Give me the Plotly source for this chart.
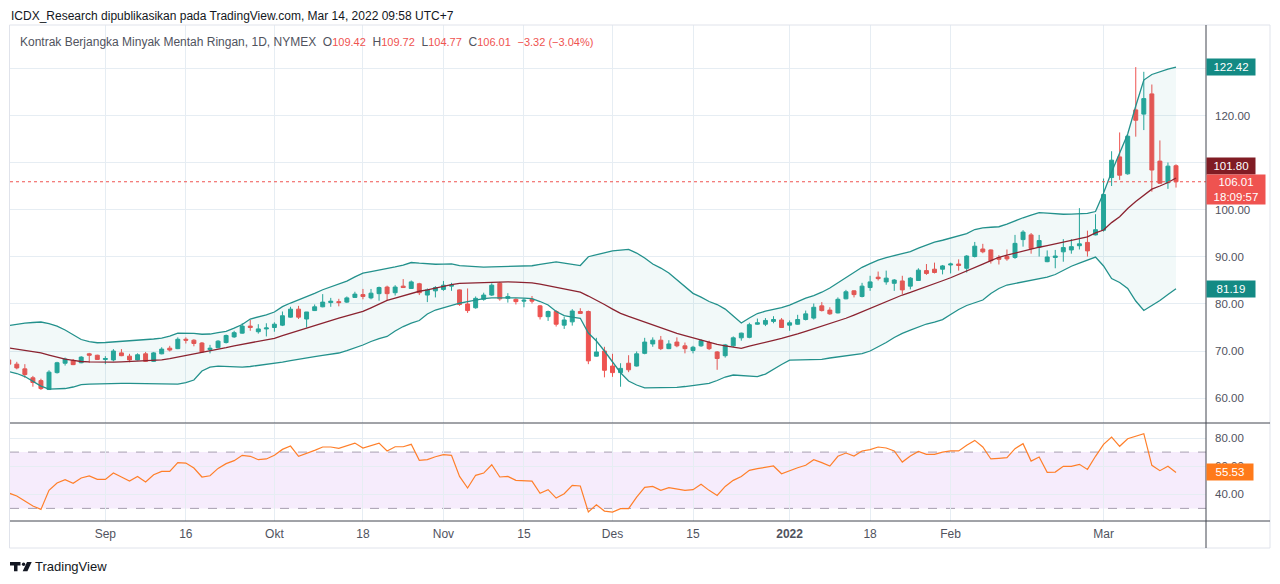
import pandas as pd
import plotly.graph_objects as go

# trading days shown (CME holidays merged into the next session)
holidays = ["2021-09-06", "2021-11-25", "2021-12-24", "2022-01-17", "2022-02-21"]
days = pd.bdate_range("2021-08-16", "2022-03-14")
days = [d.strftime("%Y-%m-%d") for d in days if d.strftime("%Y-%m-%d") not in holidays]

opens = [68.1, 67.2, 66.2, 64.3, 63.7, 61.8, 65.4, 67.4, 68.0, 67.5,
         69.4, 69.1, 68.2, 68.1, 69.6, 68.9, 68.1, 69.4, 67.8, 69.4,
         70.6, 70.5, 72.5, 72.3, 71.7, 70.3, 70.7, 71.8, 73.0, 73.8,
         75.3, 74.1, 74.7, 75.0, 75.5, 77.2, 78.9, 76.8, 78.6, 79.4,
         80.3, 80.5, 80.4, 81.4, 82.0, 81.3, 82.2, 83.6, 82.4, 83.8,
         83.3, 84.3, 81.9, 82.8, 83.1, 83.8, 83.0, 80.0, 79.2, 81.0,
         81.9, 84.4, 81.2, 81.0, 80.6, 81.0, 79.6, 77.3, 78.4, 75.5,
         76.2, 78.4, 78.4, 68.9, 70.0, 66.8, 65.4, 67.4, 66.8, 69.5,
         71.5, 72.3, 70.5, 71.9, 71.1, 70.1, 71.1, 71.8, 69.8, 69.0,
         71.1, 72.8, 72.9, 75.7, 75.7, 76.3, 76.6, 75.5, 75.7, 76.7,
         77.0, 79.6, 78.7, 78.1, 81.1, 82.8, 81.6, 83.5, 85.7, 84.7,
         84.4, 84.9, 83.8, 85.0, 87.1, 87.4, 87.4, 88.3, 88.5, 87.6,
         90.1, 91.7, 91.5, 89.9, 90.1, 89.9, 93.7, 94.7, 92.1, 89.0,
         89.9, 91.1, 91.5, 92.4, 93.1, 94.7, 95.7, 106.9, 111.3, 107.7,
         121.3, 120.4, 124.7, 110.4, 105.8, 109.42]
highs = [68.4, 67.7, 67.2, 64.7, 64.1, 65.9, 67.7, 68.6, 68.3, 68.9,
         69.6, 69.2, 68.9, 70.4, 70.4, 69.4, 69.5, 69.8, 69.8, 70.8,
         71.1, 72.9, 72.9, 72.5, 71.9, 71.3, 72.3, 73.5, 74.3, 75.9,
         76.6, 75.7, 75.9, 76.1, 78.4, 79.4, 79.6, 78.3, 79.9, 82.1,
         81.3, 81.1, 81.6, 82.6, 83.2, 83.2, 83.7, 83.9, 84.0, 85.3,
         85.0, 84.5, 83.3, 83.8, 84.9, 84.5, 83.1, 83.3, 81.6, 82.4,
         84.4, 84.7, 82.3, 81.2, 81.2, 81.7, 79.8, 78.6, 78.7, 77.3,
         78.9, 79.1, 78.6, 72.8, 70.9, 69.4, 67.4, 69.1, 69.9, 72.8,
         72.9, 73.2, 72.3, 72.9, 71.8, 71.1, 72.5, 72.2, 70.0, 71.5,
         73.1, 73.9, 76.0, 76.9, 77.0, 77.4, 77.0, 76.5, 77.7, 78.6,
         80.1, 80.4, 79.3, 81.4, 83.0, 82.9, 84.5, 86.0, 86.9, 87.1,
         85.3, 86.0, 85.7, 87.6, 88.5, 88.8, 88.3, 88.8, 89.5, 90.4,
         93.2, 92.8, 91.6, 90.4, 91.6, 94.7, 95.7, 95.1, 94.7, 91.4,
         91.5, 93.8, 93.8, 100.4, 95.6, 99.1, 106.7, 112.5, 116.5, 116.0,
         130.4, 129.4, 126.7, 114.8, 110.1, 109.72]
lows = [66.9, 66.1, 64.3, 62.4, 61.7, 61.7, 65.2, 66.9, 67.0, 67.4,
        67.5, 68.1, 67.2, 67.8, 68.9, 67.6, 68.0, 67.7, 67.7, 69.3,
        69.9, 70.4, 71.6, 71.0, 69.6, 69.5, 70.6, 71.6, 72.8, 73.7,
        74.3, 73.7, 73.1, 74.1, 75.3, 77.1, 76.8, 75.0, 78.5, 79.3,
        79.4, 79.5, 80.2, 81.3, 81.0, 81.0, 80.7, 80.8, 81.8, 83.4,
        83.2, 81.9, 80.4, 81.4, 82.8, 82.8, 79.6, 78.1, 79.0, 80.7,
        81.7, 80.7, 80.3, 79.9, 79.3, 80.1, 76.7, 76.4, 75.2, 74.7,
        75.4, 77.9, 67.2, 68.8, 64.4, 64.5, 62.4, 65.5, 66.7, 69.3,
        70.9, 70.2, 70.4, 70.8, 69.5, 69.5, 70.9, 70.2, 66.0, 68.6,
        70.8, 72.2, 72.7, 75.6, 75.3, 75.9, 74.9, 74.3, 75.6, 76.5,
        76.7, 78.4, 77.7, 78.0, 81.0, 81.4, 81.4, 82.8, 85.0, 84.1,
        82.8, 82.1, 83.1, 84.9, 86.2, 86.5, 86.3, 86.5, 87.1, 86.7,
        89.9, 90.8, 88.6, 88.4, 89.2, 89.6, 92.2, 90.7, 90.1, 88.9,
        87.6, 89.0, 90.7, 91.6, 90.1, 94.6, 95.4, 105.1, 106.4, 107.5,
        115.6, 117.0, 103.9, 105.6, 104.5, 104.77]
closes = [67.2, 66.4, 65.0, 63.3, 62.0, 65.5, 67.5, 68.3, 67.1, 68.7,
          69.1, 68.2, 68.4, 70.0, 69.0, 68.1, 69.2, 67.8, 69.6, 70.4,
          70.2, 72.5, 72.3, 71.6, 69.8, 70.6, 72.1, 73.3, 73.9, 75.3,
          75.0, 74.7, 74.9, 75.7, 77.5, 78.9, 77.2, 78.3, 79.4, 80.4,
          80.6, 80.3, 81.3, 82.1, 81.6, 82.3, 83.5, 82.2, 83.6, 83.5,
          84.7, 82.4, 83.0, 83.5, 84.0, 84.0, 79.9, 78.6, 81.2, 81.9,
          84.0, 81.1, 81.6, 80.5, 80.8, 80.6, 77.3, 78.4, 75.7, 76.6,
          78.5, 78.0, 67.9, 69.8, 65.9, 65.4, 66.3, 66.0, 69.4, 71.9,
          72.3, 70.5, 71.5, 71.1, 70.5, 70.8, 72.2, 70.5, 68.4, 71.3,
          72.8, 73.8, 75.6, 76.0, 76.5, 76.7, 75.0, 76.0, 76.7, 77.9,
          79.3, 78.6, 77.9, 81.0, 82.6, 82.0, 83.8, 84.7, 85.4, 85.5,
          85.1, 83.0, 85.5, 87.2, 86.5, 86.7, 88.1, 88.5, 88.2, 90.2,
          92.3, 91.1, 89.2, 89.5, 89.6, 92.9, 95.3, 91.8, 93.5, 90.0,
          90.2, 92.0, 92.2, 92.8, 91.3, 95.8, 103.3, 110.6, 107.4, 115.7,
          119.1, 123.7, 108.5, 105.7, 109.33, 106.01]

# Bollinger bands (own scale on the chart)
bb_upper = [74.37, 74.65, 74.83, 74.93, 75.02, 74.74, 74.27, 73.53, 72.60, 71.77,
            71.39, 71.17, 71.21, 71.30, 71.39, 71.49, 71.58, 71.67, 71.86, 72.04,
            72.42, 72.97, 72.97, 72.92, 72.75, 72.79, 73.05, 73.29, 73.87, 74.55,
            75.58, 75.95, 76.36, 76.88, 77.88, 78.55, 79.11, 79.67, 80.35, 81.02,
            81.56, 82.12, 82.64, 83.42, 84.11, 84.40, 84.66, 84.94, 85.28, 85.61,
            86.08, 85.95, 85.84, 85.76, 85.80, 85.84, 85.52, 85.39, 85.32, 85.24,
            85.28, 85.32, 85.35, 85.39, 85.43, 85.48, 85.74, 85.98, 86.21, 85.98,
            85.74, 85.52, 87.16, 87.55, 87.97, 88.25, 88.40, 88.53, 87.84, 86.91,
            85.80, 85.05, 84.12, 82.82, 81.52, 80.35, 79.66, 78.83, 78.27, 77.43,
            76.13, 74.83, 75.76, 76.60, 77.03, 77.34, 77.69, 78.18, 78.83, 79.48,
            79.94, 80.56, 81.34, 82.27, 83.20, 84.20, 85.19, 85.89, 86.54, 87.01,
            87.36, 87.75, 88.10, 88.74, 89.37, 89.85, 90.22, 90.63, 91.00, 91.47,
            92.21, 92.53, 92.64, 92.73, 93.23, 93.88, 94.40, 94.90, 95.37, 95.28,
            95.15, 95.05, 95.09, 95.17, 95.20, 95.56, 99.00, 102.90, 106.44, 109.97,
            115.17, 120.00, 121.03, 121.58, 122.05, 122.42]
bb_basis = [70.19, 69.94, 69.72, 69.52, 69.28, 68.88, 68.46, 68.14, 67.90, 67.68,
            67.62, 67.58, 67.58, 67.58, 67.62, 67.68, 67.73, 67.81, 67.86, 67.99,
            68.20, 68.48, 68.81, 69.07, 69.35, 69.63, 69.91, 70.26, 70.59, 70.87,
            71.13, 71.39, 71.67, 71.99, 72.47, 72.96, 73.46, 73.94, 74.39, 74.85,
            75.30, 75.74, 76.17, 76.58, 76.99, 77.66, 78.36, 79.03, 79.48, 79.93,
            80.41, 80.74, 81.00, 81.34, 81.65, 81.99, 82.21, 82.27, 82.34, 82.40,
            82.45, 82.51, 82.49, 82.45, 82.40, 82.30, 82.08, 81.78, 81.43, 81.15,
            80.87, 80.56, 79.85, 79.11, 78.27, 77.43, 76.62, 76.06, 75.52, 75.02,
            74.46, 73.94, 73.42, 72.92, 72.51, 72.08, 71.65, 71.23, 70.87, 70.59,
            70.33, 70.13, 70.52, 70.93, 71.24, 71.62, 71.99, 72.36, 72.82, 73.29,
            73.75, 74.27, 74.72, 75.20, 75.72, 76.32, 76.95, 77.56, 78.18, 78.83,
            79.48, 80.04, 80.54, 81.06, 81.52, 82.08, 82.69, 83.25, 83.86, 84.50,
            85.11, 85.80, 86.45, 87.06, 87.47, 87.86, 88.25, 88.62, 88.92, 89.24,
            89.54, 89.81, 90.15, 90.52, 90.86, 91.60, 92.12, 93.50, 94.58, 96.12,
            97.42, 98.63, 99.71, 100.30, 100.95, 101.80]
bb_lower = [65.82, 65.45, 64.89, 64.05, 63.12, 62.53, 62.56, 62.66, 62.94, 63.40,
            63.49, 63.55, 63.59, 63.61, 63.63, 63.63, 63.63, 63.63, 63.61, 63.57,
            63.53, 63.49, 63.77, 64.24, 65.91, 66.65, 66.84, 66.75, 66.65, 66.65,
            66.75, 66.93, 67.12, 67.29, 67.58, 67.86, 68.14, 68.36, 68.60, 68.83,
            69.07, 69.26, 69.72, 70.19, 70.75, 71.40, 71.95, 72.33, 73.35, 74.18,
            74.83, 75.30, 76.51, 77.25, 77.71, 78.12, 78.51, 78.83, 79.14, 79.37,
            79.52, 79.55, 79.54, 79.52, 79.48, 79.37, 78.83, 78.18, 76.97, 76.21,
            75.95, 75.71, 72.97, 71.49, 69.63, 67.58, 65.59, 64.05, 63.31, 62.79,
            62.79, 62.83, 62.84, 62.88, 63.03, 63.22, 63.40, 63.61, 64.15, 64.80,
            65.17, 65.06, 64.89, 64.87, 65.35, 66.28, 67.12, 67.95, 67.95, 67.95,
            68.03, 68.08, 68.33, 68.51, 68.64, 68.83, 69.14, 69.63, 70.37, 71.21,
            72.14, 72.92, 73.53, 74.15, 74.65, 75.02, 75.48, 76.41, 77.34, 78.09,
            78.64, 79.11, 80.32, 81.25, 81.90, 82.18, 82.51, 82.79, 83.07, 83.35,
            83.85, 84.65, 85.39, 85.98, 86.54, 87.10, 85.43, 83.11, 82.36, 81.25,
            78.92, 77.16, 78.09, 79.01, 80.13, 81.19]

rsi = [40.9, 38.8, 35.2, 31.7, 29.3, 42.8, 48.0, 50.4, 47.8, 51.6,
       53.0, 50.6, 50.6, 55.1, 52.3, 49.4, 52.7, 48.7, 53.9, 56.3,
       56.3, 62.5, 62.2, 58.7, 52.3, 53.2, 58.4, 61.8, 63.9, 67.7,
       67.0, 64.6, 65.1, 67.7, 71.9, 74.3, 67.0, 68.9, 71.2, 73.6,
       73.6, 72.7, 74.8, 76.4, 72.9, 74.8, 76.4, 70.8, 73.8, 73.8,
       75.5, 64.1, 64.6, 66.7, 68.2, 67.7, 52.7, 44.5, 53.5, 55.1,
       61.0, 52.3, 52.7, 49.9, 49.9, 49.4, 40.7, 43.3, 37.3, 40.4,
       46.4, 45.9, 27.4, 32.6, 28.1, 27.4, 29.8, 29.8, 38.0, 44.9,
       45.6, 42.8, 44.7, 44.0, 42.8, 43.3, 47.1, 42.8, 39.2, 45.6,
       49.9, 52.7, 57.0, 58.2, 59.1, 60.1, 54.6, 57.0, 58.9, 60.6,
       64.6, 62.5, 60.1, 67.0, 69.3, 67.2, 70.8, 71.7, 73.6, 72.9,
       70.8, 62.9, 67.2, 70.5, 68.4, 68.4, 70.0, 70.8, 70.8, 74.8,
       78.3, 73.6, 65.1, 65.5, 66.0, 72.4, 76.0, 63.6, 66.5, 55.6,
       55.8, 59.9, 59.9, 61.3, 57.7, 67.0, 75.5, 80.7, 74.1, 79.5,
       81.4, 83.1, 60.6, 56.8, 59.9, 55.53]

tick_days = ["2021-09-01", "2021-09-16", "2021-10-01", "2021-10-18", "2021-11-01",
             "2021-11-15", "2021-12-01", "2021-12-15", "2022-01-03", "2022-01-18",
             "2022-02-01", "2022-03-01"]
tick_text = ["Sep", "16", "Okt", "18", "Nov", "15", "Des", "15", "<b>2022</b>", "18",
             "Feb", "Mar"]

price_ticks = [60, 70, 80, 90, 100, 110, 120, 130]
price_text = ["60.00", "70.00", "80.00", "90.00", "100.00", "", "120.00", ""]
rsi_ticks = [40, 60, 80]
rsi_text = ["40.00", "60.00", "80.00"]

UP = "#26a69a"
DOWN = "#ef5350"
BAND = "#23918c"
BASIS = "#8b2330"
GRID = "#e6edf3"
FONT = "Liberation Sans, Arial, sans-serif"

# the page puts the figure 8px in from the top-left corner
OFF = 8
W, H = 1280 - OFF, 584 - OFF
L, R, T, B = 10 - OFF, 74, 25 - OFF, 63
PW, PH = W - L - R, H - T - B


def px(xp, yp):
    # pixel position in the page -> paper coordinates
    return (xp - OFF - L) / PW, (H - B - (yp - OFF)) / PH


main_bottom = px(0, 423)[1]
rsi_top = px(0, 424)[1]
xrange_ = [0.155, 0.155 + PW / 8.05]

fig = go.Figure()

fig.add_trace(go.Scatter(x=days, y=bb_lower, mode="lines", line=dict(color=BAND, width=1.3),
                         xaxis="x", yaxis="y3", hoverinfo="skip"))
fig.add_trace(go.Scatter(x=days, y=bb_upper, mode="lines", line=dict(color=BAND, width=1.3),
                         fill="tonexty", fillcolor="rgba(38,150,145,0.06)",
                         xaxis="x", yaxis="y3", hoverinfo="skip"))
fig.add_trace(go.Scatter(x=days, y=bb_basis, mode="lines", line=dict(color=BASIS, width=1.3),
                         xaxis="x", yaxis="y3", hoverinfo="skip"))

fig.add_trace(go.Candlestick(
    x=days, open=opens, high=highs, low=lows, close=closes,
    increasing=dict(line=dict(color=UP, width=1), fillcolor=UP),
    decreasing=dict(line=dict(color=DOWN, width=1), fillcolor=DOWN),
    whiskerwidth=0, xaxis="x", yaxis="y", hoverinfo="skip"))

fig.add_trace(go.Scatter(x=days, y=rsi, mode="lines", line=dict(color="#ff7f2a", width=1.2),
                         xaxis="x2", yaxis="y2", hoverinfo="skip"))

axis_font = dict(family=FONT, size=11.5, color="#50535e")

fig.update_layout(
    width=W, height=H,
    margin=dict(l=L, r=R, t=T, b=B),
    paper_bgcolor="white", plot_bgcolor="white",
    showlegend=False,
    boxgap=0.3,
    xaxis=dict(type="category", domain=[0, 1], anchor="y", range=xrange_,
               tickvals=tick_days, ticktext=tick_text, showticklabels=False,
               showgrid=True, gridcolor=GRID, zeroline=False, showline=False,
               rangeslider=dict(visible=False), fixedrange=True),
    xaxis2=dict(type="category", domain=[0, 1], anchor="y2", range=xrange_,
                tickvals=tick_days, ticktext=tick_text, showticklabels=True,
                ticks="", ticklabelstandoff=4, tickfont=dict(family=FONT, size=12, color="#50535e"),
                showgrid=True, gridcolor=GRID, zeroline=False, showline=False,
                fixedrange=True),
    yaxis=dict(domain=[main_bottom, 1], anchor="x", side="right", range=[54.68, 139.36],
               tickvals=price_ticks, ticktext=price_text, ticks="", ticklabelstandoff=8,
               tickfont=axis_font, showgrid=True, gridcolor=GRID, zeroline=False,
               showline=False, fixedrange=True),
    yaxis3=dict(overlaying="y", anchor="x", side="right", range=[56.25, 130.23],
                visible=False, showgrid=False, fixedrange=True),
    yaxis2=dict(domain=[0, rsi_top], anchor="x2", side="right", range=[21.03, 89.95],
                tickvals=rsi_ticks, ticktext=rsi_text, ticks="", ticklabelstandoff=8,
                tickfont=axis_font, showgrid=True, gridcolor=GRID, zeroline=False,
                showline=False, fixedrange=True),
)

shapes = []
# RSI band 30-70
shapes.append(dict(type="rect", xref="paper", yref="y2", x0=0, x1=1, y0=30, y1=70,
                   fillcolor="rgba(170,80,230,0.11)", line=dict(width=0), layer="below"))
for lvl in (30, 70):
    shapes.append(dict(type="line", xref="paper", yref="y2", x0=0, x1=1, y0=lvl, y1=lvl,
                       line=dict(color="#a79fb0", width=1, dash="dash"), layer="below"))
# last price line
shapes.append(dict(type="line", xref="paper", yref="y", x0=0, x1=1, y0=closes[-1], y1=closes[-1],
                   line=dict(color=DOWN, width=1, dash="dot")))

# chart frame and pane separators
def seg(x0, y0, x1, y1, color, width=1):
    a, b = px(x0, y0)
    c, d = px(x1, y1)
    return dict(type="line", xref="paper", yref="paper", x0=a, y0=b, x1=c, y1=d,
                line=dict(color=color, width=width))

shapes.append(seg(9.5, 25, 1270, 25, "#e0e3eb"))
shapes.append(seg(9.5, 25, 9.5, 548, "#e0e3eb"))
shapes.append(seg(1270, 25, 1270, 548, "#e0e3eb"))
shapes.append(seg(9.5, 548, 1270, 548, "#e0e3eb"))
shapes.append(seg(10, 423, 1270, 423, "#434651"))
shapes.append(seg(10, 521, 1270, 521, "#434651"))
shapes.append(seg(1206, 25, 1206, 548, "#434651"))

# TradingView logo mark
def poly(points, color):
    path = ""
    for k, (xp, yp) in enumerate(points):
        a, b = px(xp, yp)
        path += ("M" if k == 0 else "L") + f"{a:.5f},{b:.5f} "
    return dict(type="path", xref="paper", yref="paper", path=path + "Z",
                fillcolor=color, line=dict(width=0))

shapes.append(poly([(10, 562), (20.5, 562), (20.5, 565.5), (17.5, 565.5), (17.5, 571.3),
                    (14, 571.3), (14, 565.5), (10, 565.5)], "#131722"))
cx, cy = px(23.6, 564.2)
rx, ry = 1.7 / PW, 1.7 / PH
shapes.append(dict(type="circle", xref="paper", yref="paper", x0=cx - rx, x1=cx + rx,
                   y0=cy - ry, y1=cy + ry, fillcolor="#131722", line=dict(width=0)))
shapes.append(poly([(27, 562), (31.7, 562), (27.4, 571.3), (22.7, 571.3)], "#131722"))

fig.update_layout(shapes=shapes)

ann = []
hx, hy = px(10, 15.5)
ann.append(dict(xref="paper", yref="paper", x=hx, y=hy, xanchor="left", yanchor="middle",
                showarrow=False, borderpad=0,
                text="ICDX_Research dipublikasikan pada TradingView.com, Mar 14, 2022 09:58 UTC+7",
                font=dict(family=FONT, size=12, color="#131722")))

chg = closes[-1] - closes[-2]
pct = chg / closes[-2] * 100
gray = "#50535e"
red = DOWN
sp = "&nbsp;&nbsp;"
val = f"color:{red};font-size:11px"
legend_text = (f"<span style='color:{gray}'>Kontrak Berjangka Minyak Mentah Ringan, 1D, NYMEX</span>{sp}"
               f"<span style='color:{gray}'>O</span><span style='{val}'>{opens[-1]:.2f}</span>{sp}"
               f"<span style='color:{gray}'>H</span><span style='{val}'>{highs[-1]:.2f}</span>{sp}"
               f"<span style='color:{gray}'>L</span><span style='{val}'>{lows[-1]:.2f}</span>{sp}"
               f"<span style='color:{gray}'>C</span><span style='{val}'>{closes[-1]:.2f}</span>{sp}"
               f"<span style='{val}'>\u2212{abs(chg):.2f} (\u2212{abs(pct):.2f}%)</span>")
lx, ly = px(18, 42)
ann.append(dict(xref="paper", yref="paper", x=lx, y=ly, xanchor="left", yanchor="middle",
                showarrow=False, text=legend_text, font=dict(family=FONT, size=12, color=gray)))

tx, ty = px(33, 566.5)
ann.append(dict(xref="paper", yref="paper", x=tx, y=ty, xanchor="left", yanchor="middle",
                showarrow=False, text="TradingView", font=dict(family=FONT, size=13, color="#131722")))

label_font = dict(family=FONT, size=11.5, color="white")
ann.append(dict(xref="paper", yref="y3", x=1, y=bb_upper[-1], xanchor="left", yanchor="middle",
                showarrow=False, text=f"{bb_upper[-1]:.2f}", bgcolor="#138a84", width=46, height=14,
                borderpad=1, font=label_font))
ann.append(dict(xref="paper", yref="y3", x=1, y=bb_lower[-1], xanchor="left", yanchor="middle",
                showarrow=False, text=f"{bb_lower[-1]:.2f}", bgcolor="#138a84", width=46, height=14,
                borderpad=1, font=label_font))
ann.append(dict(xref="paper", yref="y3", x=1, y=bb_basis[-1], yshift=12, xanchor="left", yanchor="middle",
                showarrow=False, text=f"{bb_basis[-1]:.2f}", bgcolor="#801c24", width=46, height=14,
                borderpad=1, font=label_font))
ann.append(dict(xref="paper", yref="y", x=1, y=closes[-1], yshift=8, xanchor="left", yanchor="top",
                showarrow=False, text=f"{closes[-1]:.2f}<br>18:09:57", bgcolor=DOWN, width=56, height=27,
                borderpad=1, font=label_font))
ann.append(dict(xref="paper", yref="y2", x=1, y=rsi[-1], xanchor="left", yanchor="middle",
                showarrow=False, text=f"{rsi[-1]:.2f}", bgcolor="#ff7a1a", width=44, height=14,
                borderpad=1, font=label_font))

fig.update_layout(annotations=ann)

fig.write_html("out.html")
